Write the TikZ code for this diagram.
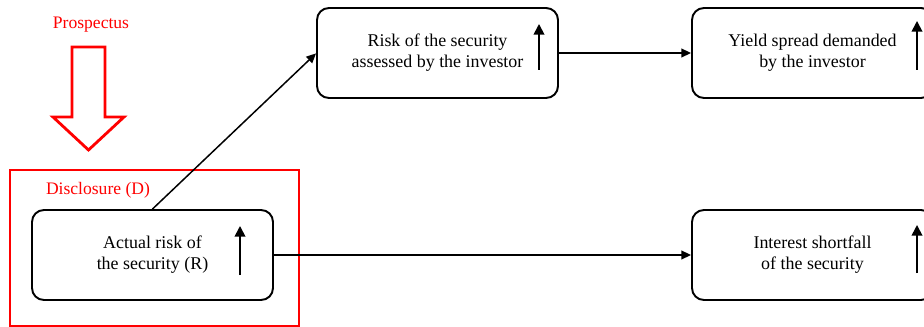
\documentclass[tikz,border=0pt]{standalone}
\usepackage{fontspec}
\setmainfont{Liberation Serif}
\usepackage{tikz}
\usetikzlibrary{arrows.meta}

\begin{document}
\begin{tikzpicture}[scale=0.2]
    \tikzstyle{every node}+=[inner sep=0pt]
    \tikzstyle{riskbox}=[draw=black, line width=1.1pt, rounded corners=6.8pt, minimum width=4.82cm, minimum height=1.8cm, align=center, font=\fontsize{10.2}{12}\selectfont]
    \tikzstyle{link}=[black, line width=0.85pt, -{Triangle[length=5.5pt, width=5pt]}]
    \tikzstyle{rise}=[black, line width=1pt, -{Triangle[length=6pt, width=6pt]}]
    \useasboundingbox (0,0) rectangle (92.4,-32.7);
    \clip (0,0) rectangle (92.4,-32.7);
    \draw [red] (9.1,-2.5) node (prosp) {\fontsize{10}{12}\selectfont Prospectus};
    \draw [red, line width=1.6pt] (7.2,-4.7) -- (10.5,-4.7) -- (10.5,-11.7) -- (12.4,-11.7) -- (8.85,-15.0) -- (5.3,-11.7) -- (7.2,-11.7) -- cycle;
    \draw [red, line width=1.6pt] (1.0,-17.0) rectangle (29.9,-32.6);
    \draw [red] (9.8,-19.0) node (disc) {\fontsize{10}{12}\selectfont Disclosure (D)};
    \node [riskbox] (actual) at (15.25,-25.5) {Actual risk of\\the security (R)};
    \node [riskbox] (assessed) at (43.75,-5.3) {Risk of the security\\assessed by the investor};
    \node [riskbox] (spread) at (81.25,-5.3) {Yield spread demanded\\by the investor};
    \node [riskbox] (shortfall) at (81.25,-25.5) {Interest shortfall\\of the security};
    % upward trend marks inside the boxes
    \draw [rise] (24.0,-27.5) -- (24.0,-22.6);
    \draw [rise] (53.9,-7.0) -- (53.9,-2.4);
    \draw [rise] (91.7,-7.0) -- (91.7,-2.1);
    \draw [rise] (91.7,-27.3) -- (91.7,-22.5);
    \draw [link] (actual.north) -- ([yshift=-0.04cm]assessed.west);
    \draw [link] (assessed.east) -- (spread.west);
    \draw [link] (actual.east) -- (shortfall.west);
\end{tikzpicture}
\end{document}
